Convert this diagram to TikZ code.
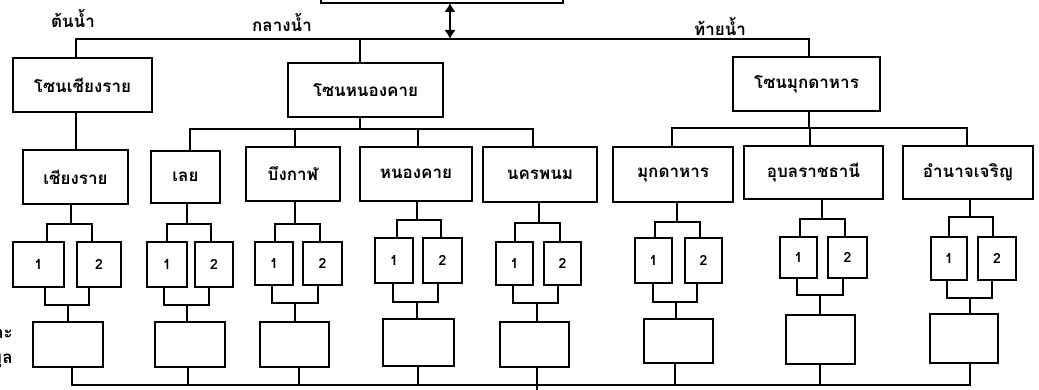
\documentclass[tikz,border=0pt]{standalone}
\usepackage{fontspec}
\newfontfamily\thai[Script=Thai]{Loma}
\usetikzlibrary{arrows.meta}
\tikzset{
  ln/.style={line width=1.3pt, line cap=rect},
  bx/.style={draw, line width=1.3pt, inner sep=0pt, outer sep=0pt, font=\thai\bfseries\fontsize{17}{19}\selectfont},
  sb/.style={bx, font=\thai\bfseries\fontsize{14}{16}\selectfont},
  lbl/.style={font=\thai\bfseries\fontsize{17}{19}\selectfont, inner sep=0pt},
}
% box by corners: #1 name, #2 style, #3 x1, #4 x2, #5 y1, #6 y2, #7 text
\newcommand{\bxc}[7]{%
  \pgfmathsetmacro{\bw}{#4-#3}\pgfmathsetmacro{\bh}{#6-#5}%
  \pgfmathsetmacro{\bcx}{(#3+#4)/2}\pgfmathsetmacro{\bcy}{(#5+#6)/2}%
  \node[#2, minimum width=\bw pt, minimum height=\bh pt] (#1) at (\bcx,\bcy) {#7};}
% group: #1 prefix, #2 stem top x, #3 fork y, #4 left x, #5 right x,
% #6 bottom-left x, #7 bottom-right x, #8 bottom fork y, #9 bottom stem x
\newcommand{\grp}[9]{%
  \coordinate (#1f) at (#2,#3);
  \draw[ln] (#1P.south -| #1f) -- (#1f);
  \draw[ln] (#4,#3) coordinate (#1fa) -- (#5,#3) coordinate (#1fb);
  \draw[ln] (#1fa) -- (#1A.north -| #1fa);
  \draw[ln] (#1fb) -- (#1B.north -| #1fb);
  \coordinate (#1ga) at (#6,#8); \coordinate (#1gb) at (#7,#8);
  \draw[ln] (#1A.south -| #1ga) -- (#1ga) -- (#1gb) -- (#1B.south -| #1gb);
  \coordinate (#1g) at (#9,#8);
  \draw[ln] (#1g) -- (#1C.north -| #1g);}
\begin{document}
\begin{tikzpicture}[x=1pt,y=-1pt]
\useasboundingbox (0,0) rectangle (1039,390);
\clip (0,0) rectangle (1039,390);

% top box
\bxc{top}{bx}{321}{563}{-30}{3}{}
\coordinate (mainL) at (76,39);
\coordinate (mainR) at (809,39);
\coordinate (arr) at (450,39);
\draw[ln] (mainL) -- (mainR);
\draw[line width=1.3pt, {Latex[length=9pt,width=11pt]}-{Latex[length=9pt,width=11pt]}] (top.south -| arr) -- (arr);

% labels
\node[lbl] (l1) at (73,19) {ต้นน้ำ};
\node[lbl] (l2) at (282,23) {กลางน้ำ};
\node[lbl] (l3) at (720,27) {ท้ายน้ำ};

% zones
\bxc{z1}{bx}{13}{152}{58}{112}{โซนเชียงราย}
\bxc{z2}{bx}{288}{443}{63}{117}{โซนหนองคาย}
\bxc{z3}{bx}{733}{880}{57}{111}{โซนมุกดาหาร}
\draw[ln] (mainL) -- (z1.north -| mainL);
\coordinate (m2) at (360,39);
\draw[ln] (m2) -- (z2.north -| m2);
\draw[ln] (mainR) -- (z3.north -| mainR);

% provinces
\bxc{aP}{bx}{23}{128}{150}{204}{เชียงราย}
\bxc{bP}{bx}{151}{220}{151}{203}{เลย}
\bxc{cP}{bx}{246}{340}{147}{201}{บึงกาฬ}
\bxc{dP}{bx}{360}{472}{147}{201}{หนองคาย}
\bxc{eP}{bx}{483}{597}{147}{202}{นครพนม}
\bxc{fP}{bx}{613}{733}{147}{202}{มุกดาหาร}
\bxc{gP}{bx}{744}{883}{146}{199}{อุบลราชธานี}
\bxc{hP}{bx}{903}{1033}{146}{199}{อำนาจเจริญ}

% zone -> provinces
\draw[ln] (z1.south -| mainL) -- (aP.north -| mainL);
\coordinate (b2) at (360,129);
\draw[ln] (z2.south -| b2) -- (b2);
\coordinate (b2L) at (190,129); \coordinate (b2R) at (533,129);
\draw[ln] (b2L) -- (b2R);
\draw[ln] (b2L) -- (bP.north -| b2L);
\coordinate (b2c) at (295,129); \draw[ln] (b2c) -- (cP.north -| b2c);
\coordinate (b2d) at (418,129); \draw[ln] (b2d) -- (dP.north -| b2d);
\draw[ln] (b2R) -- (eP.north -| b2R);
\coordinate (b3) at (809,128);
\draw[ln] (z3.south -| b3) -- (b3);
\coordinate (b3L) at (672,128); \coordinate (b3R) at (967,128);
\draw[ln] (b3L) -- (b3R);
\draw[ln] (b3L) -- (fP.north -| b3L);
\coordinate (b3g) at (810,128); \draw[ln] (b3g) -- (gP.north -| b3g);
\draw[ln] (b3R) -- (hP.north -| b3R);

% small boxes and big boxes
\bxc{aA}{sb}{13}{64}{242}{287}{1}   \bxc{aB}{sb}{77}{121}{242}{287}{2}   \bxc{aC}{bx}{33}{103}{322}{367}{}
\bxc{bA}{sb}{147}{187}{242}{287}{1} \bxc{bB}{sb}{195}{233}{242}{287}{2} \bxc{bC}{bx}{155}{225}{322}{367}{}
\bxc{cA}{sb}{255}{293}{242}{285}{1} \bxc{cB}{sb}{303}{342}{242}{285}{2} \bxc{cC}{bx}{260}{329}{322}{367}{}
\bxc{dA}{sb}{375}{413}{238}{283}{1} \bxc{dB}{sb}{423}{462}{238}{283}{2} \bxc{dC}{bx}{383}{454}{319}{366}{}
\bxc{eA}{sb}{496}{533}{242}{285}{1} \bxc{eB}{sb}{544}{581}{242}{285}{2} \bxc{eC}{bx}{500}{569}{322}{367}{}
\bxc{fA}{sb}{635}{672}{238}{283}{1} \bxc{fB}{sb}{685}{722}{238}{283}{2} \bxc{fC}{bx}{644}{713}{319}{363}{}
\bxc{gA}{sb}{780}{817}{237}{278}{1} \bxc{gB}{sb}{828}{867}{237}{278}{2} \bxc{gC}{bx}{786}{855}{315}{364}{}
\bxc{hA}{sb}{931}{967}{237}{280}{1} \bxc{hB}{sb}{978}{1016}{237}{280}{2} \bxc{hC}{bx}{930}{998}{314}{363}{}

\grp{a}{71}{224}{47}{92}{45}{89}{305}{68}
\grp{b}{187}{224}{167}{211}{164}{209}{305}{187}
\grp{c}{295}{224}{275}{320}{272}{318}{303}{295}
\grp{d}{417}{220}{397}{441}{393}{438}{302}{417}
\grp{e}{539}{223}{515}{560}{513}{558}{303}{537}
\grp{f}{677}{222}{655}{700}{653}{697}{302}{676}
\grp{g}{822}{219}{800}{845}{797}{843}{295}{820}
\grp{h}{970}{217}{949}{993}{947}{992}{298}{970}

% bottom bus
\coordinate (busL) at (72,385); \coordinate (busR) at (970,385);
\coordinate (busE) at (537,385); \coordinate (busEnd) at (537,395);
\draw[ln] (aC.south -| busL) -- (busL) -- (busR) -- (hC.south -| busR);
\coordinate (s2) at (188,385); \draw[ln] (bC.south -| s2) -- (s2);
\coordinate (s3) at (299,385); \draw[ln] (cC.south -| s3) -- (s3);
\coordinate (s4) at (418,385); \draw[ln] (dC.south -| s4) -- (s4);
\draw[ln] (eC.south -| busE) -- (busEnd);
\coordinate (s6) at (675,385); \draw[ln] (fC.south -| s6) -- (s6);
\coordinate (s7) at (820,385); \draw[ln] (gC.south -| s7) -- (s7);

% cropped side text
\node[lbl, anchor=east] (side1) at (13,334) {และ};
\node[lbl, anchor=east] (side2) at (13,358) {ข้อมูล};
\end{tikzpicture}
\end{document}
